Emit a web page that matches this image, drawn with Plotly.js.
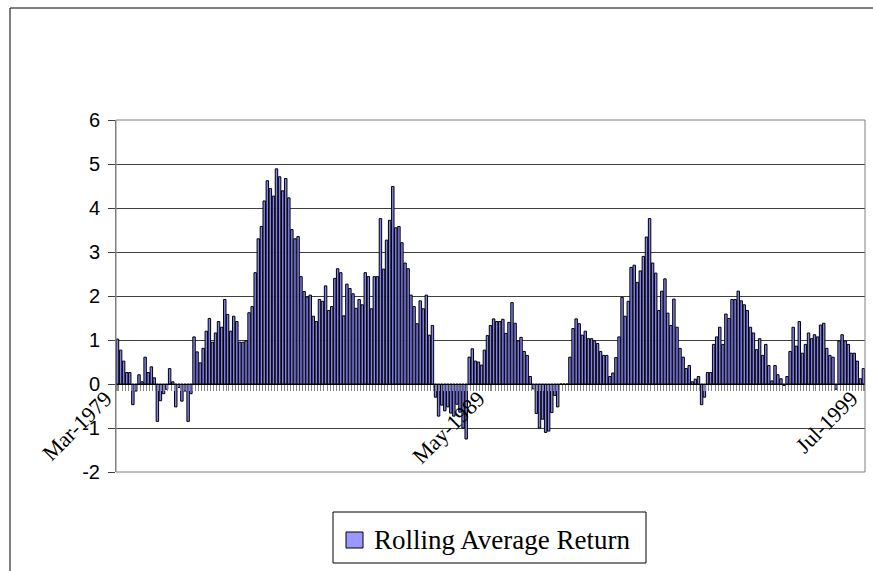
<!DOCTYPE html>
<html><head><meta charset="utf-8">
<script src="https://cdn.plot.ly/plotly-3.0.1.min.js"></script>
<style>html,body{margin:0;padding:0;background:#fff}#chart{width:873px;height:571px}</style>
</head><body><div id="chart"></div>
<script>
// ---- data ----
const seriesName = 'Rolling Average Return';
const startYear = 1979;
const startMonth = 3;
const values = [
 1.02,0.77,0.52,0.26,0.26,-0.47,-0.16,0.21,0.05,0.61,
 0.26,0.39,0.14,-0.85,-0.38,-0.22,-0.12,0.35,0.05,-0.52,
 -0.08,-0.39,-0.16,-0.85,-0.22,1.07,0.73,0.48,0.81,1.2,
 1.49,0.95,1.16,1.42,1.29,1.92,1.58,1.2,1.54,1.42,
 0.95,0.95,0.98,1.62,1.76,2.53,3.3,3.58,4.16,4.62,
 4.44,4.27,4.89,4.71,4.39,4.67,4.23,3.51,3.3,3.35,
 2.44,2.1,1.98,2.02,1.54,1.42,1.92,1.88,2.23,1.67,
 1.76,2.4,2.62,2.53,1.55,2.27,2.17,2.05,1.72,1.92,
 1.8,2.53,2.44,1.71,2.44,2.44,3.76,2.61,3.27,3.72,
 4.49,3.55,3.58,3.21,2.75,2.62,2.02,1.76,1.37,1.89,
 1.71,2.02,1.11,1.33,-0.3,-0.73,-0.48,-0.61,-0.52,-0.66,
 -0.73,-0.46,-0.64,-1.0,-1.25,0.61,0.8,0.52,0.5,0.43,
 0.77,1.1,1.33,1.48,1.42,1.42,1.47,1.15,1.4,1.85,
 1.38,0.98,1.06,0.74,0.65,0.17,-0.11,-0.67,-1.0,-0.8,
 -1.1,-1.07,-0.65,-0.26,-0.52,0,0,0,0.61,1.26,
 1.48,1.37,1.11,1.2,1.03,1.03,0.98,0.92,0.74,0.65,
 0.65,0.17,0.25,0.6,1.07,1.97,1.54,1.88,2.65,2.7,
 2.31,2.57,2.9,3.34,3.76,2.75,2.52,1.67,2.11,2.39,
 1.61,1.33,1.93,1.29,0.81,0.61,0.35,0.42,0.05,0.11,
 0.17,-0.47,-0.3,0.26,0.26,0.9,1.07,1.29,0.9,1.59,
 1.49,1.92,1.92,2.11,1.89,1.8,1.67,1.29,1.16,0.78,
 1.03,0.65,0.9,0.42,0.07,0.42,0.21,0.12,-0.03,0.17,
 0.74,1.29,0.86,1.42,0.7,0.9,1.16,1.03,1.12,1.07,
 1.34,1.38,0.81,0.65,0.61,-0.12,0.98,1.12,0.98,0.9,
 0.7,0.7,0.52,0.12,0.35
];
const tickDates = ['1979-03-01','1989-05-01','1999-07-01'];
const tickLabels = ['Mar-1979','May-1989','Jul-1999'];
const yTicks = [-2,-1,0,1,2,3,4,5,6];
const yTickLabels = ['-2','-1','0','1','2','3','4','5','6'];

// month categories (one per value)
const months = values.map((v,i)=>{
  const m = startMonth-1+i;
  const y = startYear+Math.floor(m/12);
  const mm = (m%12)+1;
  return y+'-'+String(mm).padStart(2,'0')+'-01';
});

// ---- layout helpers (pixel -> paper) ----
const W=873,H=571, L=116, R=865, T=120, B=472;
const px = x => (x-L)/(R-L);
const py = y => (B-y)/(B-T);
const DAY = 86400000;

const trace = {
  type:'bar', x:months, y:values, name:seriesName,
  width: 30.44*0.8*DAY,
  marker:{color:'#8080F0', line:{color:'#000', width:1}},
  showlegend:false, hoverinfo:'x+y'
};

const layout = {
  width:W, height:H,
  margin:{l:L, r:W-R, t:T, b:H-B, pad:0},
  paper_bgcolor:'#fff', plot_bgcolor:'#fff',
  font:{family:'Liberation Sans, Arial, sans-serif', color:'#000'},
  xaxis:{
    type:'date', range:['1979-02-14','1999-07-17'],
    anchor:'free', position:0.25,
    showline:true, linecolor:'#000', linewidth:1,
    showgrid:false, zeroline:false,
    tickmode:'array', tickvals:tickDates, ticktext:tickLabels,
    ticks:'outside', ticklen:6, tickcolor:'#888', tickwidth:1,
    tickangle:-45, ticklabelstandoff:-14, ticklabelshift:-12,
    tickfont:{family:'Liberation Serif, Times New Roman, serif', size:22, color:'#000'},
    minor:{ticks:'outside', ticklen:6, tickcolor:'#888', tickwidth:1, dtick:'M1', tick0:'1979-02-15', showgrid:false}
  },
  yaxis:{
    range:[-2,6], tickmode:'array', tickvals:yTicks, ticktext:yTickLabels,
    showline:true, linecolor:'#808080', linewidth:1,
    showgrid:true, gridcolor:'#404040', gridwidth:1,
    zeroline:false,
    ticks:'outside', ticklen:7, tickcolor:'#404040',
    ticklabelstandoff:4,
    tickfont:{family:'Liberation Sans, Arial, sans-serif', size:20, color:'#000'}
  },
  bargap:0.2,
  shapes:[
    {type:'rect', xref:'paper', yref:'paper', x0:0, x1:1, y0:0, y1:1, line:{color:'#808080', width:1}, layer:'above'},
    {type:'line', xref:'paper', yref:'paper', x0:px(10), x1:px(10), y0:py(8), y1:py(575), line:{color:'#000', width:1}},
    {type:'line', xref:'paper', yref:'paper', x0:px(10), x1:px(880), y0:py(8), y1:py(8), line:{color:'#000', width:1}},
    {type:'rect', xref:'paper', yref:'paper', x0:px(333), x1:px(646), y0:py(512), y1:py(563), line:{color:'#000', width:1}, fillcolor:'#fff'},
    {type:'rect', xref:'paper', yref:'paper', x0:px(346), x1:px(363), y0:py(532), y1:py(548), line:{color:'#000', width:1}, fillcolor:'#9999FF'}
  ],
  annotations:[
    {xref:'paper', yref:'paper', x:px(372), y:py(540), xanchor:'left', yanchor:'middle', showarrow:false,
     text:seriesName, font:{family:'Liberation Serif, Times New Roman, serif', size:27, color:'#000'}}
  ]
};

Plotly.newPlot('chart',[trace],layout,{displayModeBar:false, staticPlot:true});
</script></body></html>
